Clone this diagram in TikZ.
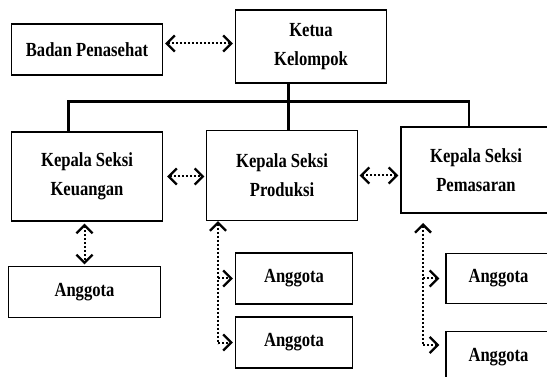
\documentclass[tikz,border=0pt]{standalone}
\usepackage{fontspec}
\setmainfont{Liberation Serif}[FakeStretch=0.83]
\usetikzlibrary{arrows.meta}

\begin{document}
\begin{tikzpicture}[x=1pt,y=-1pt,
    >={Straight Barb[length=8pt,width=16pt,line width'=2.4pt]},
    box/.style={draw,line width=1.2pt,inner sep=0pt,align=center,
      font=\fontsize{20}{29}\selectfont\bfseries},
    link/.style={line width=2pt,dash pattern=on 2pt off 2pt},
    bus/.style={line width=2.5pt}]
    \useasboundingbox (0,0) rectangle (547,377);
    %% boxes
    \node[box,minimum width=151pt,minimum height=51pt] (badan) at (87,49.5) {Badan Penasehat};
    \node[box,minimum width=151pt,minimum height=73pt] (ketua) at (311,46.5) {Ketua\\Kelompok};
    \node[box,minimum width=151pt,minimum height=89pt] (keu) at (87,176.5) {Kepala Seksi\\Keuangan};
    \node[box,minimum width=151pt,minimum height=90pt] (pro) at (282,175.5) {Kepala Seksi\\Produksi};
    \node[box,minimum width=150pt,minimum height=86pt] (pem) at (476,170) {Kepala Seksi\\Pemasaran};
    \node[box,minimum width=152pt,minimum height=51pt] (ang1) at (84.5,292) {Anggota};
    \node[box,minimum width=117pt,minimum height=51pt] (ang2) at (294,278.5) {Anggota};
    \node[box,minimum width=117pt,minimum height=51pt] (ang3) at (294,342.5) {Anggota};
    \node[box,minimum width=105pt,minimum height=50pt] (ang4) at (498.5,278.5) {Anggota};
    \node[box,minimum width=105pt,minimum height=51pt] (ang5) at (498.5,357) {Anggota};
    %% bus
    \coordinate (stem) at (288.5,0);
    \coordinate (busL) at (68.5,101.7);
    \coordinate (busR) at (469,101.7);
    \draw[bus] (stem |- ketua.south) -- (stem |- pro.north);
    \draw[bus] (busL |- keu.north) -- (busL) -- (busR) -- (busR |- pem.north);
    %% dotted links
    \draw[link,<->,shorten <=2pt,shorten >=2pt] ([yshift=6pt]badan.east) -- ([yshift=6pt]badan.east -| ketua.west);
    \draw[link,<->,shorten <=4pt,shorten >=1.5pt] (keu.east) -- (keu.east -| pro.west);
    \draw[link,<->,shorten <=1.5pt,shorten >=2pt] (pro.east) -- (pro.east -| pem.west);
    \draw[link,<->,shorten <=2pt,shorten >=1.5pt] (ang1.north |- keu.south) -- (ang1.north);
    %%
    \coordinate (pB) at (218,344);
    \draw[link,<-] (pro.south -| pB) -- (pB);
    \draw[link,->,shorten >=2pt] (pB |- ang2) -- (ang2);
    \draw[link,->,shorten >=2pt] (pB |- ang3) -- (ang3);
    %%
    \coordinate (mT) at (423,223);
    \coordinate (mB) at (423,345);
    \draw[link,<-] (mT) -- (mB);
    \draw[link,->,shorten >=6pt] (mT |- ang4) -- (ang4);
    \draw[link,->,shorten >=6pt] (mB) -- (mB -| ang5.west);
\end{tikzpicture}
\end{document}
